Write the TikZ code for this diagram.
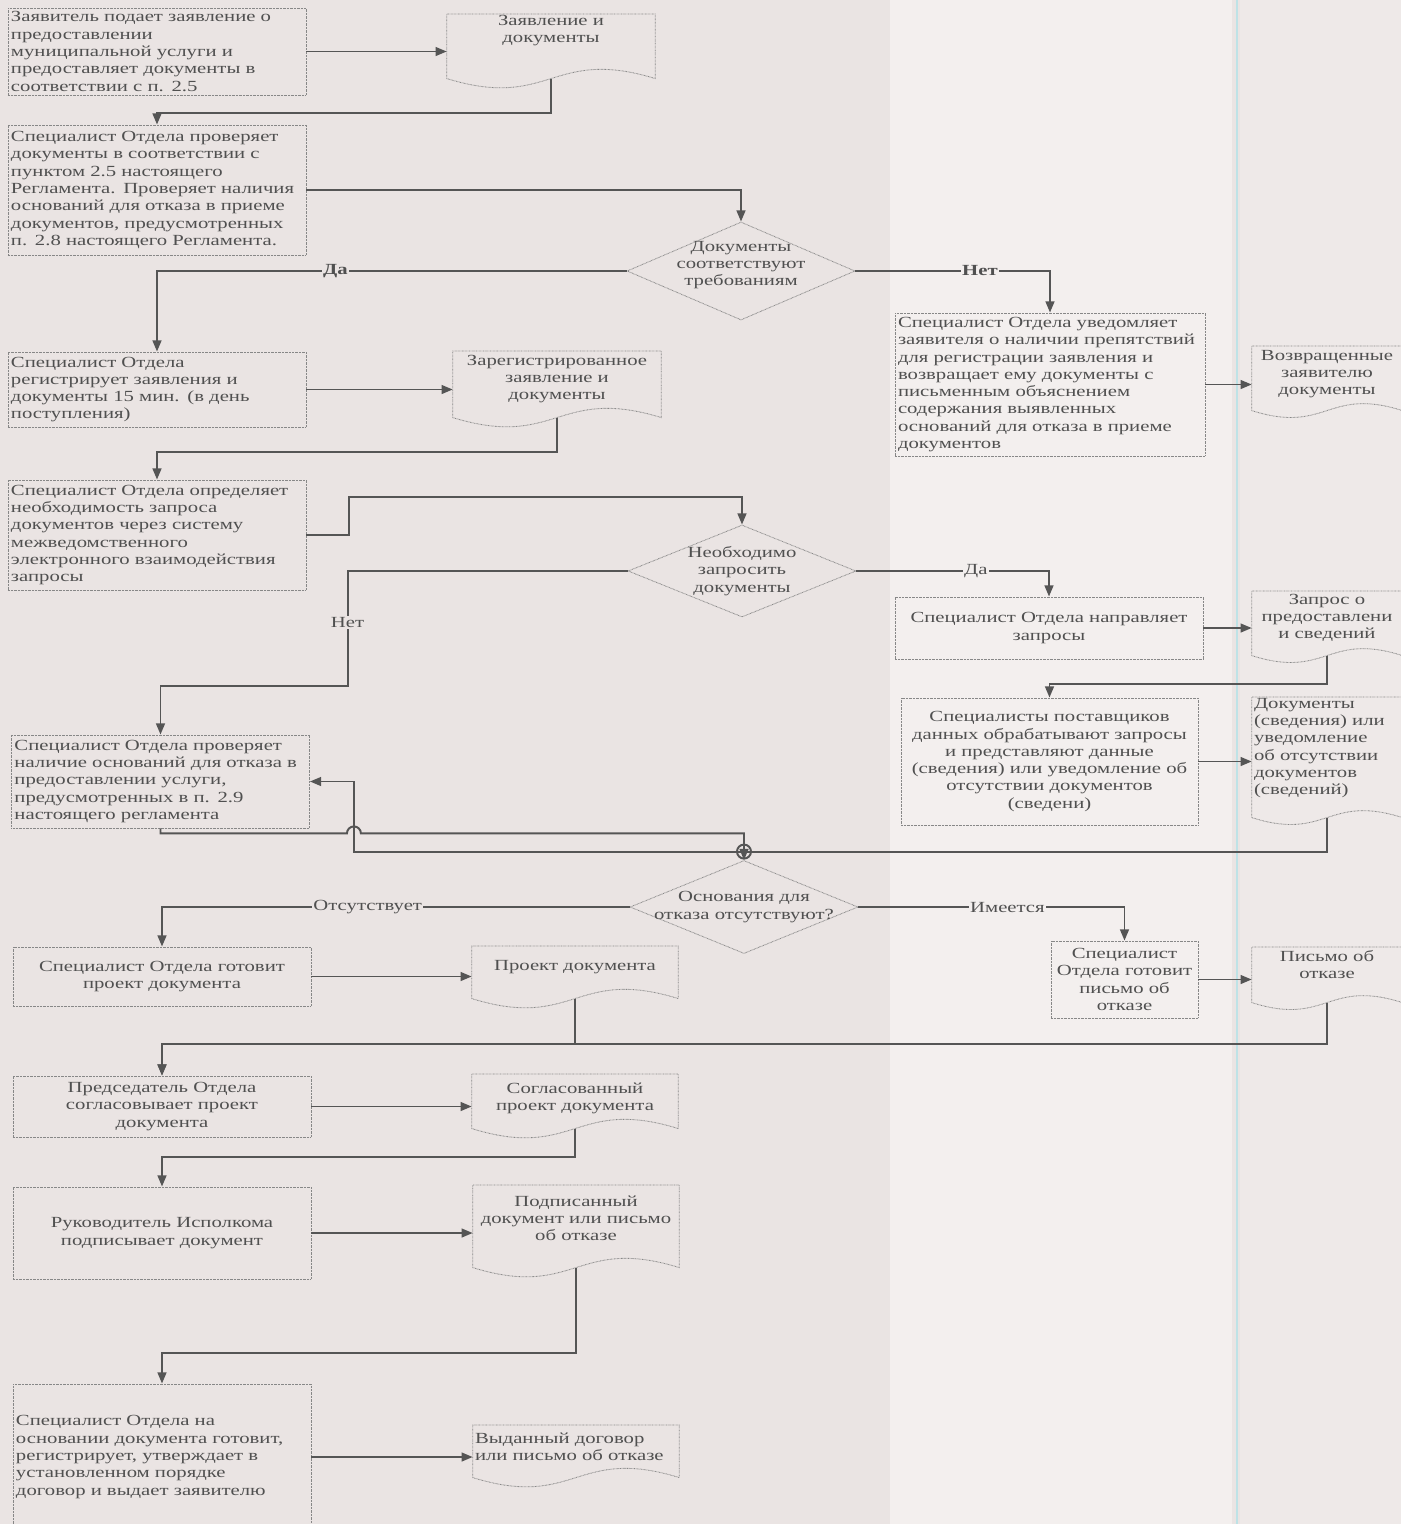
\documentclass[tikz,border=0pt]{standalone}
\usepackage{fontspec}
\setmainfont{Liberation Serif}[FakeStretch=1.34]
\usepackage{tikz}
\usetikzlibrary{shapes.geometric,arrows.meta,calc}

\definecolor{bgmain}{RGB}{234,228,227}
\definecolor{bgband}{RGB}{243,239,238}
\definecolor{bgright}{RGB}{238,233,232}
\definecolor{seam}{RGB}{190,226,230}
\definecolor{txtgray}{RGB}{80,80,80}
\definecolor{boxgray}{RGB}{135,135,135}
\definecolor{linegray}{RGB}{85,85,85}

\newcommand{\boxfont}{\fontsize{11}{12.3}\selectfont}
\newcommand{\docline}[2]{\draw[docborder] (#1.south west) -- (#1.north west) -- (#1.north east) -- (#1.south east) .. controls ($(#1.south)+(0,-#2)$) and ($(#1.south)+(0,#2)$) .. (#1.south west);}

\tikzset{
	box/.style={rectangle, draw=boxgray, dash pattern=on 0.5pt off 0.5pt, line width=0.6pt, minimum width=74.5mm, text width=73mm, inner sep=0pt, align=left, text=txtgray, font=\boxfont},
	boxc/.style={box, align=center},
	diam/.style={diamond, draw=boxgray, dash pattern=on 0.5pt off 0.5pt, line width=0.6pt, inner sep=0pt, minimum width=57mm, aspect=2.3},
	diamtext/.style={align=center, inner sep=0pt, text=txtgray, font=\boxfont},
	doc/.style={rectangle, anchor=north, inner xsep=0.5mm, inner ysep=0pt, align=center, text=txtgray, font=\boxfont},
	docborder/.style={draw=boxgray, dash pattern=on 0.5pt off 0.5pt, line width=0.6pt},
	arr/.style={draw=linegray, line width=1.4pt, -{Triangle[length=2.8mm,width=2.2mm]}},
	conn/.style={draw=linegray, line width=1.4pt},
	lbl/.style={fill=bgmain, inner sep=1pt, text=txtgray, font=\boxfont}
}

\begin{document}
\begin{tikzpicture}[x=0.25mm, y=-0.25mm]
	
	\useasboundingbox (0,0) rectangle (1401,1524);
	\fill[bgmain] (0,0) rectangle (1401,1524);
	\fill[bgband] (890,0) rectangle (1232,1524);
	\fill[bgright] (1240,0) rectangle (1401,1524);
	\draw[seam, line width=0.4mm] (1237,0) -- (1237,1524);
	
	\node[box, minimum height=21.75mm] (zayav) at (157, 51.5) {Заявитель подает заявление о\\предоставлении\\муниципальной услуги и\\предоставляет документы в\\соответствии с п. 2.5};
	\node[box, minimum height=32.5mm] (proverka) at (157, 190) {Специалист Отдела  проверяет\\документы в соответствии с\\пунктом 2.5 настоящего\\Регламента. Проверяет наличия\\оснований для отказа в приеме\\документов, предусмотренных\\п. 2.8 настоящего Регламента.};
	\node[diam, minimum height=24.5mm, label={[diamtext, yshift=1.5mm]center:Документы\\соответствуют\\требованиям}] (diam1) at (741, 271) {};
	\node[box, minimum height=18.75mm] (registr) at (157, 389.5) {Специалист Отдела\\регистрирует заявления и\\документы 15 мин. (в день\\поступления)};
	\node[box, minimum width=77.5mm, text width=76mm, minimum height=35.75mm] (uvedom) at (1050, 384.5) {Специалист Отдела уведомляет\\заявителя о наличии препятствий\\для регистрации заявления и\\возвращает ему документы с\\письменным объяснением\\содержания выявленных\\оснований для отказа в приеме\\документов};
	\node[box, minimum height=27.5mm] (opredel) at (157, 535) {Специалист Отдела определяет\\необходимость запроса\\документов через систему\\межведомственного\\электронного взаимодействия\\запросы};
	\node[diam, minimum height=23mm, label={[diamtext]center:Необходимо\\запросить\\документы}] (diam2) at (742, 571) {};
	\node[boxc, minimum width=77mm, text width=75.5mm, minimum height=15.5mm] (napravl) at (1049, 628) {Специалист Отдела направляет\\запросы};
	\node[boxc, minimum width=74.25mm, text width=73mm, minimum height=31.75mm] (postav) at (1049.5, 761.5) {Специалисты поставщиков\\данных обрабатывают запросы\\и представляют данные\\(сведения) или уведомление об\\отсутствии документов\\(сведени)};
	\node[box, minimum height=23.25mm] (nalichie) at (160.5, 781.5) {Специалист Отдела проверяет\\наличие оснований для отказа в\\предоставлении услуги,\\предусмотренных в п. 2.9\\настоящего регламента};
	\node[diam, minimum height=23.25mm, label={[diamtext]center:Основания для\\отказа отсутствуют?}] (diam3) at (744, 907) {};
	\node[boxc, minimum height=14.75mm] (proekt) at (162, 976.5) {Специалист Отдела готовит\\проект документа};
	\node[boxc, minimum width=36.75mm, text width=35.5mm, minimum height=19.25mm] (pismo) at (1124.5, 979.5) {Специалист\\Отдела готовит\\письмо об\\отказе};
	\node[boxc, minimum height=15.25mm] (soglas) at (162, 1106.5) {Председатель Отдела\\согласовывает проект\\документа};
	\node[boxc, minimum height=23mm] (podpis) at (162, 1233) {Руководитель Исполкома\\подписывает документ};
	\node[box, minimum height=36.5mm] (vydach) at (162, 1457) {Специалист Отдела на\\основании документа  готовит,\\регистрирует, утверждает в\\установленном порядке\\договор и выдает заявителю};
	
	\node[doc, text width=51mm, text height=2.75mm, text depth=13.25mm] (d1) at (551, 14) {Заявление и\\документы};
	\node[doc, text width=51mm, text height=3.5mm, text depth=13mm] (d2) at (557, 351) {Зарегистрированное\\заявление и\\документы};
	\node[doc, text width=36.5mm, text height=3.5mm, text depth=12.5mm] (d3) at (1327, 346) {Возвращенные\\заявителю\\документы};
	\node[doc, text width=36.5mm, text height=3.25mm, text depth=12.75mm] (d4) at (1327, 591) {Запрос о\\предоставлени\\и сведений};
	\node[doc, align=left, text width=36.5mm, text height=2.75mm, text depth=27.25mm] (d5) at (1327, 697) {Документы\\(сведения) или\\уведомление\\об отсутствии\\документов\\(сведений)};
	\node[doc, text width=50.5mm, text height=6mm, text depth=7mm] (d6) at (575, 946) {Проект документа};
	\node[doc, text width=36.5mm, text height=3.5mm, text depth=10.25mm] (d7) at (1327, 947) {Письмо об\\отказе};
	\node[doc, text width=50.5mm, text height=4.75mm, text depth=8.75mm] (d8) at (575, 1074) {Согласованный\\проект документа};
	\node[doc, text width=50.5mm, text height=5.25mm, text depth=15.25mm] (d9) at (576, 1185) {Подписанный\\документ или письмо\\об отказе};
	\node[doc, align=left, text width=50.5mm, text height=4.5mm, text depth=8.5mm] (d10) at (576, 1425) {Выданный договор\\или письмо об отказе};
	
	\docline{d1}{32}
	\docline{d2}{32}
	\docline{d3}{24}
	\docline{d4}{24}
	\docline{d5}{24}
	\docline{d6}{32}
	\docline{d7}{24}
	\docline{d8}{32}
	\docline{d9}{32}
	\docline{d10}{32}
	
	\coordinate (obhod) at ([xshift=11mm]nalichie.east);
	
	\draw[arr] (zayav.east) -- (zayav.east -| d1.west);
	\draw[arr] (d1.south) |- ([yshift=3mm]proverka.north) -- (proverka.north);
	\draw[arr] (proverka.east) -| (diam1.north);
	\draw[arr] (diam1.west) -| node[lbl, pos=0.31] {\textbf{Да}} (registr.north);
	\draw[arr] (diam1.east) -| node[lbl, fill=bgband, pos=0.32] {\textbf{Нет}} (uvedom.north);
	\draw[arr] (registr.east) -- (registr.east -| d2.west);
	\draw[arr] (uvedom.east) -- (uvedom.east -| d3.west);
	\draw[arr] (d2.south) |- ([yshift=7mm]opredel.north) -- (opredel.north);
	\draw[arr] (opredel.east) -- ++(43,0) |- ([yshift=7mm]diam2.north) -- (diam2.north);
	\draw[arr] (diam2.west) -- ++(-280,0) -- node[lbl, pos=0.45] {Нет} ++(0,115) -| (nalichie.north);
	\draw[arr] (diam2.east) -| node[lbl, fill=bgband, pos=0.31] {Да} (napravl.north);
	\draw[arr] (napravl.east) -- (napravl.east -| d4.west);
	\draw[arr] (d4.south) |- ([yshift=3.5mm]postav.north) -- (postav.north);
	\draw[arr] (postav.east) -- (postav.east -| d5.west);
	\draw[arr] (d5.south) -- ++(0,34) coordinate (vozvr) -| (obhod) -- (nalichie.east);
	\draw[arr] (nalichie.south) -- ++(0,5) coordinate (hop) -- ($(hop -| obhod)+(-7,0)$) arc[start angle=180, end angle=0, radius=1.75mm] -- (hop -| diam3.north) -- (diam3.north);
	\draw[conn] (vozvr -| diam3.north) circle[radius=1.75mm];
	\draw[arr] (diam3.west) -| node[lbl, pos=0.28] {Отсутствует} (proekt.north);
	\draw[arr] (diam3.east) -| node[lbl, fill=bgband, pos=0.28] {Имеется} (pismo.north);
	\draw[arr] (proekt.east) -- (proekt.east -| d6.west);
	\draw[arr] (pismo.east) -- (pismo.east -| d7.west);
	\draw[arr] (d6.south) |- ([yshift=8mm]soglas.north) -- (soglas.north);
	\draw[arr] (d7.south) |- ([yshift=8mm]soglas.north) -- (soglas.north);
	\draw[arr] (soglas.east) -- (soglas.east -| d8.west);
	\draw[arr] (d8.south) |- ([yshift=7.5mm]podpis.north) -- (podpis.north);
	\draw[arr] (podpis.east) -- (podpis.east -| d9.west);
	\draw[arr] (d9.south) |- ([yshift=7.75mm]vydach.north) -- (vydach.north);
	\draw[arr] (vydach.east) -- (vydach.east -| d10.west);
	
\end{tikzpicture}
\end{document}
